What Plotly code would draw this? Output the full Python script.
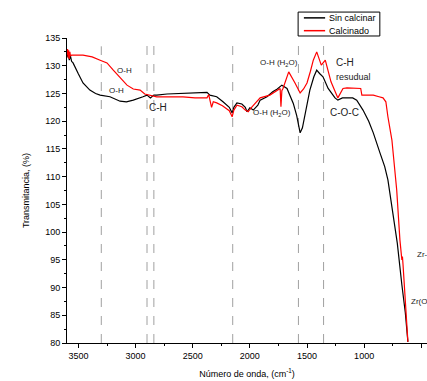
import plotly.graph_objects as go

# Sin calcinar (black)
x_sin = [3600,3590,3580,3570,3560,3547,3500,3460,3400,3350,3310,3224,3136,3080,3020,2970,2935,2900,2870,2840,2815,2725,2550,2375,2350,2290,2235,2180,2155,2140,2113,2070,2040,2025,2000,1970,1930,1910,1850,1800,1760,1720,1675,1620,1590,1560,1540,1520,1475,1440,1415,1390,1360,1315,1255,1230,1190,1150,1100,1065,1010,960,920,860,820,792,750,710,670,640,617]
y_sin = [131.5,132.3,131.0,131.8,130.8,130.5,128.5,126.9,125.6,125.0,124.7,124.4,123.6,123.5,123.8,124.1,124.4,124.7,124.2,124.7,124.7,124.9,125.0,125.2,124.7,124.4,123.5,122.5,121.5,122.5,123.3,123.1,122.5,121.7,122.4,122.0,122.9,123.8,124.4,125.3,125.8,126.5,125.9,123.2,121.0,117.9,118.8,120.8,125.6,128.0,129.2,128.6,128.0,125.9,124.2,123.8,124.2,124.2,124.2,123.8,122.0,120.0,117.9,114.2,111.8,109.4,104.0,98.0,90.5,85.5,80.2]

# Calcinado (red)
x_cal = [3600,3595,3590,3585,3580,3575,3570,3560,3460,3380,3310,3250,3195,3136,3075,3020,2960,2920,2875,2815,2700,2585,2480,2375,2360,2345,2335,2320,2290,2240,2180,2155,2140,2113,2070,2040,2015,1985,1955,1910,1825,1765,1735,1728,1720,1710,1660,1605,1560,1530,1500,1470,1445,1415,1375,1340,1290,1230,1185,1150,1100,1065,1030,1020,960,920,870,835,810,792,757,715,687,670,665,660,617]
y_cal = [132.0,133.0,131.5,132.8,131.2,132.5,131.8,131.9,131.9,131.6,131.0,130.5,129.2,127.8,126.5,125.8,125.6,124.9,124.7,124.4,124.4,124.4,124.2,124.2,124.8,123.0,122.5,123.5,123.3,122.8,121.9,120.8,122.0,122.9,122.6,122.0,121.7,122.5,123.2,124.2,124.7,125.6,125.9,122.6,125.5,125.9,128.9,126.9,125.1,125.8,126.9,129.0,131.0,132.5,130.1,131.0,127.1,124.2,125.9,126.0,126.0,125.9,125.9,124.7,124.7,124.7,124.4,124.2,123.5,120.8,116.6,107.6,98.6,95.0,95.6,94.2,80.2]

series_names = ["Sin calcinar", "Calcinado"]
series_colors = ["black", "red"]

# Reference band positions (dashed lines)
bands = [3300, 2900, 2840, 2150, 1575, 1355]
band_tops = [133.5, 135, 135, 135, 135, 135]

# Labels: (text, x, y, size, anchor)
labels = [
    ("O-H", 3093, 129.2, 8, "center"),
    ("O-H", 3170, 125.6, 8, "center"),
    ("C-H", 2805, 122.4, 10, "center"),
    ("O-H (H<sub>2</sub>O)", 1745, 130.5, 8, "center"),
    ("O-H (H<sub>2</sub>O)", 1807, 121.5, 8, "center"),
    ("C-H", 1262, 130.5, 10, "left"),
    ("resudual", 1262, 128.0, 9, "left"),
    ("C-O-C", 1168, 121.5, 10, "center"),
    ("Zr-O", 555, 96.0, 8, "left"),
    ("Zr(OH)", 608, 87.4, 8, "left"),
]

fig = go.Figure()
fig.add_trace(go.Scatter(x=x_sin, y=y_sin, mode="lines", name=series_names[0],
                         line=dict(color=series_colors[0], width=1.2), showlegend=False))
fig.add_trace(go.Scatter(x=x_cal, y=y_cal, mode="lines", name=series_names[1],
                         line=dict(color=series_colors[1], width=1.2), showlegend=False))

for b, t in zip(bands, band_tops):
    fig.add_shape(type="line", x0=b, x1=b, y0=80, y1=t, xref="x", yref="y",
                  line=dict(color="#a0a0a0", width=1, dash="dash"), layer="below")

for txt, lx, ly, sz, anc in labels:
    fig.add_annotation(x=lx, y=ly, text=txt, showarrow=False, xanchor=anc,
                       font=dict(size=sz, color="#222222"))

# Legend box (drawn manually for exact placement)
fig.add_shape(type="rect", xref="paper", yref="paper", x0=0.642, x1=0.869, y0=1.0066, y1=1.085,
              line=dict(color="black", width=1), fillcolor="white")
for i, (nm, col) in enumerate(zip(series_names, series_colors)):
    ly = [1.066, 1.024][i]
    fig.add_shape(type="line", xref="paper", yref="paper", x0=0.658, x1=0.717, y0=ly, y1=ly,
                  line=dict(color=col, width=1.5))
    fig.add_annotation(xref="paper", yref="paper", x=0.722, y=ly, text=nm, showarrow=False,
                       xanchor="left", yanchor="middle", font=dict(size=9, color="black"))

fig.update_layout(
    width=427, height=381,
    margin=dict(l=67, r=0, t=38, b=38),
    paper_bgcolor="white", plot_bgcolor="white",
    font=dict(family="Liberation Sans, Arial, sans-serif", size=9, color="black"),
    showlegend=False,
    xaxis=dict(range=[3600, 450], tickvals=[3500, 3000, 2500, 2000, 1500, 1000, 500],
               ticks="outside", ticklen=4, tickcolor="black", showline=True,
               linecolor="black", linewidth=1, showgrid=False, zeroline=False,
               minor=dict(ticks="outside", ticklen=2, tickcolor="black", dtick=250, showgrid=False),
               title=dict(text="Número de onda, (cm<sup>-1</sup>)", font=dict(size=9), standoff=10)),
    yaxis=dict(range=[80, 135], dtick=5, ticks="outside", ticklen=4, tickcolor="black",
               showline=True, linecolor="black", linewidth=1, showgrid=False, zeroline=False,
               minor=dict(ticks="outside", ticklen=2, tickcolor="black", dtick=2.5, showgrid=False),
               title=dict(text="Transmitancia, (%)", font=dict(size=9), standoff=14)),
)

fig.write_html("out.html", config={"displayModeBar": False},
               post_script="document.body.style.margin='0';")
